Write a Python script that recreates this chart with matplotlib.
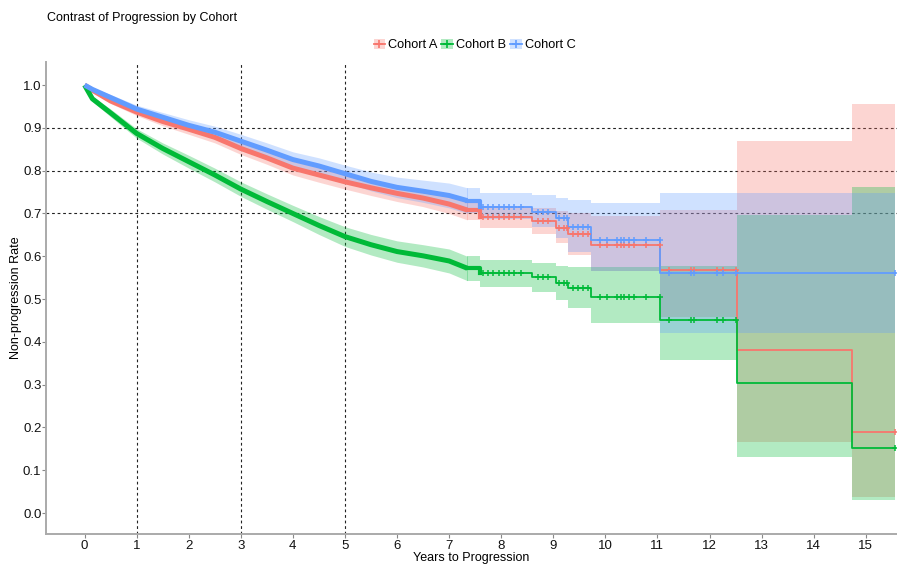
import matplotlib.pyplot as plt
import numpy as np
from matplotlib.lines import Line2D
from matplotlib.patches import Patch

plt.rcParams['font.family'] = ['Liberation Sans', 'DejaVu Sans']

# time points (years); first 17 are the smooth early part, the rest are step changes
times = [0, 0.15, 0.5, 1, 1.5, 2, 2.5, 3, 3.5, 4, 4.5, 5, 5.5, 6, 6.5, 7, 7.35,
         7.6, 8.6, 9.05, 9.29, 9.72, 11.05, 12.53, 14.73, 15.57]
n_early = 17

cohorts = ['Cohort A', 'Cohort B', 'Cohort C']
colors = ['#F8766D', '#00BA38', '#619CFF']

surv_a = [1.0, 0.988, 0.963, 0.937, 0.915, 0.897, 0.878, 0.852, 0.830, 0.806, 0.790,
          0.774, 0.760, 0.747, 0.736, 0.722, 0.708,
          0.692, 0.683, 0.667, 0.652, 0.626, 0.569, 0.381, 0.189, 0.189]
lower_a = [1.0, 0.984, 0.957, 0.929, 0.905, 0.885, 0.865, 0.838, 0.815, 0.790, 0.773,
           0.757, 0.742, 0.728, 0.716, 0.700, 0.685,
           0.667, 0.653, 0.630, 0.603, 0.565, 0.457, 0.167, 0.038, 0.038]
upper_a = [1.0, 0.992, 0.969, 0.945, 0.925, 0.909, 0.891, 0.866, 0.845, 0.822, 0.807,
           0.791, 0.778, 0.766, 0.756, 0.744, 0.731,
           0.716, 0.712, 0.705, 0.700, 0.695, 0.708, 0.870, 0.956, 0.956]

surv_b = [1.0, 0.968, 0.935, 0.887, 0.852, 0.821, 0.790, 0.757, 0.728, 0.700, 0.672,
          0.646, 0.627, 0.611, 0.601, 0.589, 0.572,
          0.560, 0.551, 0.538, 0.525, 0.504, 0.452, 0.303, 0.151, 0.151]
lower_b = [1.0, 0.962, 0.926, 0.876, 0.839, 0.806, 0.774, 0.740, 0.710, 0.681, 0.651,
           0.623, 0.603, 0.586, 0.575, 0.561, 0.543,
           0.529, 0.517, 0.498, 0.478, 0.445, 0.357, 0.132, 0.030, 0.030]
upper_b = [1.0, 0.974, 0.944, 0.898, 0.865, 0.836, 0.806, 0.774, 0.746, 0.719, 0.693,
           0.669, 0.651, 0.636, 0.627, 0.617, 0.600,
           0.591, 0.585, 0.578, 0.574, 0.576, 0.577, 0.696, 0.761, 0.761]

surv_c = [1.0, 0.990, 0.971, 0.944, 0.925, 0.906, 0.890, 0.869, 0.848, 0.826, 0.811,
          0.793, 0.775, 0.761, 0.752, 0.742, 0.730,
          0.716, 0.704, 0.689, 0.669, 0.639, 0.560, 0.560, 0.560, 0.560]
lower_c = [1.0, 0.986, 0.964, 0.935, 0.914, 0.893, 0.876, 0.853, 0.831, 0.808, 0.792,
           0.773, 0.753, 0.737, 0.726, 0.713, 0.700,
           0.686, 0.669, 0.642, 0.611, 0.565, 0.420, 0.420, 0.420, 0.420]
upper_c = [1.0, 0.994, 0.978, 0.953, 0.936, 0.919, 0.904, 0.885, 0.865, 0.844, 0.830,
           0.813, 0.797, 0.785, 0.778, 0.771, 0.760,
           0.748, 0.742, 0.735, 0.731, 0.724, 0.749, 0.749, 0.749, 0.749]

# censoring marks after the dense early part
censor_times = [7.65, 7.75, 7.85, 7.95, 8.05, 8.15, 8.25, 8.38, 8.7, 8.8, 8.89,
                9.11, 9.2, 9.27, 9.37, 9.47, 9.57, 9.66, 9.9, 10.04, 10.23, 10.3,
                10.36, 10.46, 10.55, 10.78, 11.04, 11.23, 11.65, 11.7, 12.14,
                12.26, 12.5, 15.57]

x_ticks = list(range(16))
y_ticks = [0.0, 0.1, 0.2, 0.3, 0.4, 0.5, 0.6, 0.7, 0.8, 0.9, 1.0]
ref_x = [1, 3, 5]
ref_y = [0.7, 0.8, 0.9]

series = [(surv_a, lower_a, upper_a), (surv_b, lower_b, upper_b), (surv_c, lower_c, upper_c)]

fig = plt.figure(figsize=(8.97, 5.64), dpi=100)
ax = fig.add_axes([0.0513, 0.0532, 0.9487, 0.8369])

t = np.array(times)
for (s, lo, up), col in zip(series, colors):
    lo, up = np.array(lo), np.array(up)
    ax.fill_between(t[:n_early], lo[:n_early], up[:n_early], color=col, alpha=0.3,
                    lw=0, zorder=2)
    ax.fill_between(t[n_early - 1:], lo[n_early - 1:], up[n_early - 1:], step='post',
                    color=col, alpha=0.3, lw=0, zorder=2)

for (s, lo, up), col in zip(series, colors):
    s = np.array(s)
    ax.plot(t[:n_early], s[:n_early], color=col, lw=3.6, zorder=3,
            solid_capstyle='butt')
    ax.plot(t[n_early - 1:n_early + 1], s[n_early - 1:n_early + 1], color=col, lw=3.0,
            drawstyle='steps-post', zorder=3)
    ax.plot(t[n_early - 1:], s[n_early - 1:], color=col, lw=1.3,
            drawstyle='steps-post', zorder=3)
    idx = np.searchsorted(t, censor_times, side='right') - 1
    ax.plot(censor_times, s[idx], ls='none', marker='+', ms=5, mew=1.1,
            color=col, zorder=4)

for xv in ref_x:
    ax.axvline(xv, color='#222222', lw=0.8, ls=(0, (2.5, 2.5)), zorder=1)
for yv in ref_y:
    ax.axhline(yv, color='#222222', lw=0.8, ls=(0, (2.5, 2.5)), zorder=1)

ax.set_xlim(-0.74, 15.6)
ax.set_ylim(-0.049, 1.054)
ax.set_xticks(x_ticks)
ax.set_yticks(y_ticks)
ax.set_yticklabels([f'{v:.1f}' for v in y_ticks])
ax.tick_params(labelsize=9.5, length=3, pad=1.5, color='#888888', labelcolor='#111111')
ax.tick_params(axis='y', pad=0.3)
for side in ['top', 'right']:
    ax.spines[side].set_visible(False)
for side in ['left', 'bottom']:
    ax.spines[side].set_color('#aaaaaa')
    ax.spines[side].set_linewidth(1.4)

ax.set_xlabel('Years to Progression', fontsize=9, labelpad=-0.5)
ax.set_ylabel('Non-progression Rate', fontsize=9, labelpad=0.5)

fig.text(0.052, 0.968, 'Contrast of Progression by Cohort', fontsize=9,
         ha='left', va='center')

handles = []
for col in colors:
    handles.append((Patch(facecolor=col, alpha=0.3, edgecolor='none'),
                    Line2D([], [], color=col, marker='+', ms=6, mew=1.2, lw=1.3)))
fig.legend(handles, cohorts, loc='center', bbox_to_anchor=(0.529, 0.92), ncol=3,
           frameon=False, fontsize=9.2, handlelength=0.9, handleheight=0.9,
           handletextpad=0.25, columnspacing=0.3, borderaxespad=0)

fig.savefig('out.png', dpi=100)
